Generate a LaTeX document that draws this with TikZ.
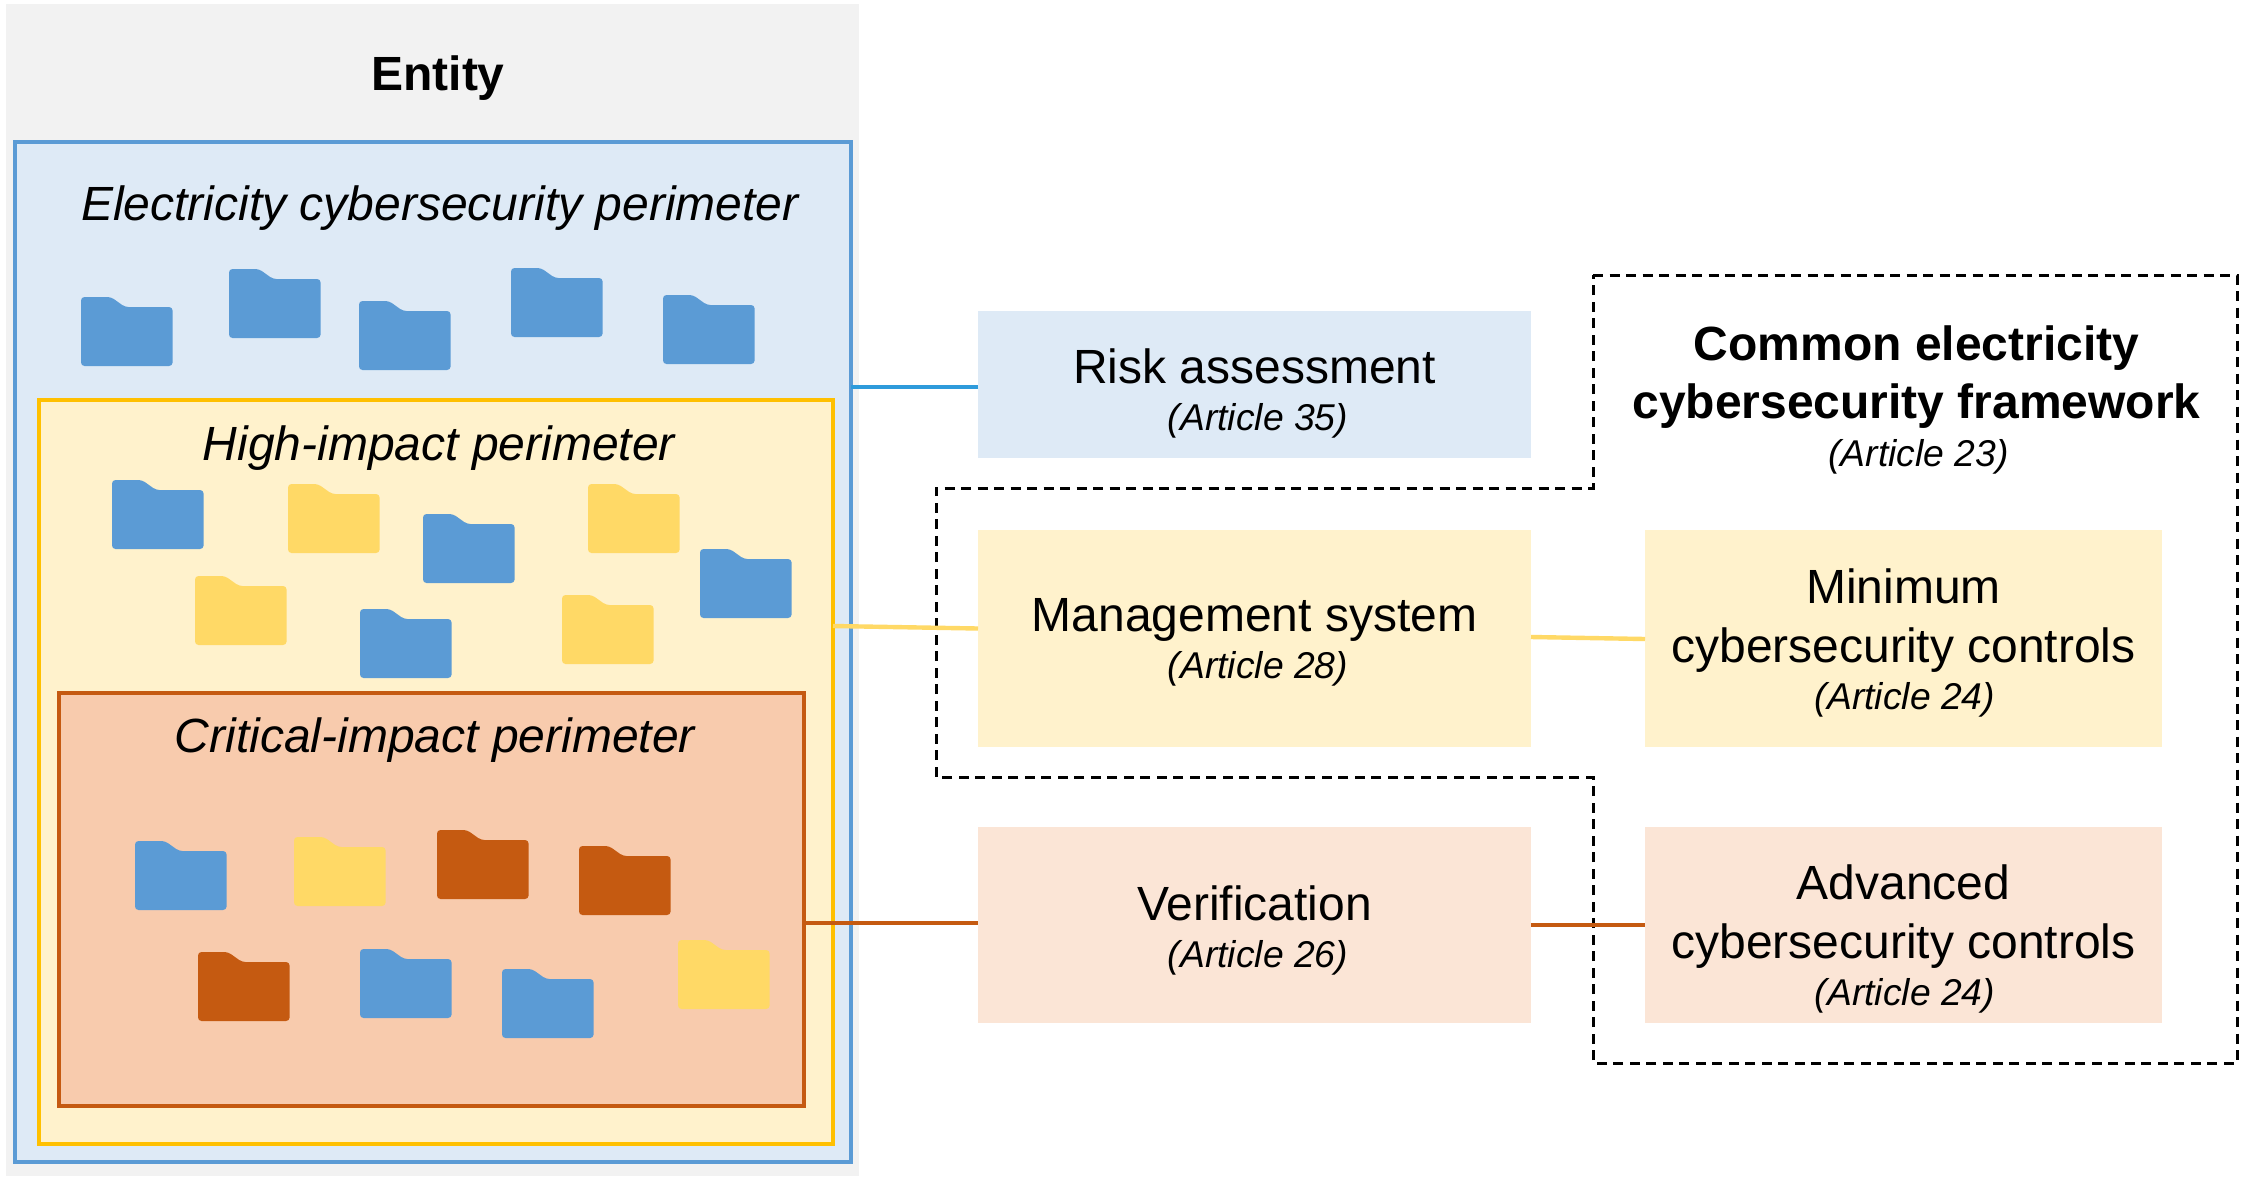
\documentclass[tikz,border=0pt]{standalone}
\usepackage{fontspec}
\setmainfont{Liberation Sans}
\usetikzlibrary{calc}
\definecolor{gBg}{HTML}{F2F2F2}
\definecolor{bLine}{HTML}{5B9BD5}
\definecolor{bFill}{HTML}{DEEAF6}
\definecolor{yLine}{HTML}{FFC000}
\definecolor{yFill}{HTML}{FFF2CC}
\definecolor{yFold}{HTML}{FFD966}
\definecolor{oLine}{HTML}{C55A11}
\definecolor{oFill}{HTML}{F8CBAD}
\definecolor{oPale}{HTML}{FBE5D6}
\definecolor{bConn}{HTML}{2E9BDB}
\newcommand{\bigf}{\fontsize{48}{59}\selectfont}
\newcommand{\artf}{\fontsize{37.3}{59}\selectfont\itshape}
\tikzset{
  zone/.style={draw=#1,line width=4.4pt,anchor=north west,inner sep=0pt,outer sep=0pt},
  card/.style={fill=#1,anchor=center,inner sep=0pt,outer sep=0pt},
  cardtext/.style={inner sep=0pt,align=center,font=\bigf,text=black},
  head/.style={font=\bigf\itshape,inner sep=0pt},
  link/.style={draw=#1,line width=4.4pt},
  frame/.style={draw=black,line width=3pt,dash pattern=on 10pt off 6.5pt},
  folder/.pic={\fill[rounded corners=3.5pt,pic actions] (0,0)--(30,0)--(44,10)--(91.6,10)--(91.6,69)--(0,69)--cycle;}
}
\begin{document}
\begin{tikzpicture}[x=1pt,y=-1pt]
\useasboundingbox (0,0) rectangle (2249,1176);
\fill[white] (0,0) rectangle (2249,1176);
% outer entity
\node[fill=gBg,anchor=north west,inner sep=0pt,outer sep=0pt,minimum width=853pt,minimum height=1172pt] (entity) at (6,4) {};
\node[font=\fontsize{48}{58}\selectfont\bfseries,inner sep=0pt] (entitylabel) at (438,78) {Entity};
% perimeters
\node[zone=bLine,fill=bFill,minimum width=836pt,minimum height=1020pt] (elec) at (15,142) {};
\node[zone=yLine,fill=yFill,minimum width=794pt,minimum height=744pt] (high) at (39,400) {};
\node[zone=oLine,fill=oFill,minimum width=745pt,minimum height=413pt] (crit) at (59,693) {};
\node[head] (eleclabel) at (440,208) {Electricity cybersecurity perimeter};
\node[head] (highlabel) at (439,448) {High-impact perimeter};
\node[head] (critlabel) at (435,740) {Critical-impact perimeter};
% folders
\foreach \x/\y in {81/297,229/269,359/301,511/268,663/295,112/480,423/514,700/549,360/609,135/841,360/949,502/969}
  \pic[fill=bLine] at (\x,\y) {folder};
\foreach \x/\y in {288/484,588/484,195/576,562/595,294/837,678/940}
  \pic[fill=yFold] at (\x,\y) {folder};
\foreach \x/\y in {437/830,579/846,198/952}
  \pic[fill=oLine] at (\x,\y) {folder};
% framework outline
\draw[frame] (1593,275)--(2237,275)--(2237,1063)--(1593,1063)--(1593,777)--(936,777)--(936,488)--(1593,488)--cycle;
\node[align=center,font=\fontsize{48}{58}\selectfont\bfseries,inner sep=0pt] (framework) at (1916.5,377.5) {Common electricity\\cybersecurity framework};
\node[font=\artf,inner sep=0pt] (art23) at (1918.5,457) {(Article 23)};
% cards
\node[card=bFill,minimum width=553pt,minimum height=147pt] (risk) at (1254.5,384.5) {};
\node[card=yFill,minimum width=553pt,minimum height=217pt] (mgmt) at (1254.5,638.5) {};
\node[card=oPale,minimum width=553pt,minimum height=196pt] (verif) at (1254.5,925) {};
\node[card=yFill,minimum width=517pt,minimum height=217pt] (minc) at (1903.5,638.5) {};
\node[card=oPale,minimum width=517pt,minimum height=196pt] (advc) at (1903.5,925) {};
\node[cardtext] (risktext) at ([yshift=-8.6pt]risk.center) {Risk assessment\\[-12pt]\hspace*{7pt}\artf (Article 35)};
\node[cardtext] (mgmttext) at ([yshift=-4.3pt]mgmt.center) {Management system\\[-12pt]\hspace*{7pt}\artf (Article 28)};
\node[cardtext] (veriftext) at ([yshift=-5.7pt]verif.center) {Verification\\[-12pt]\hspace*{7pt}\artf (Article 26)};
\node[cardtext] (minctext) at ([yshift=-4pt]minc.center) {Minimum\\cybersecurity controls\\[-12pt]\hspace*{3pt}\artf (Article 24)};
\node[cardtext] (advctext) at ([yshift=-14pt]advc.center) {Advanced\\cybersecurity controls\\[-12pt]\hspace*{3pt}\artf (Article 24)};
% connectors
\coordinate (riskin) at ([yshift=-2.5pt]risk.west);
\coordinate (verifin) at ([yshift=2pt]verif.west);
\draw[link=bConn] (riskin) -- (riskin -| elec.east);
\draw[link=yFold] (high.east |- 0,626) -- (mgmt.west |- 0,628.5);
\draw[link=yFold] (mgmt.east |- 0,637) -- (minc.west |- 0,639);
\draw[link=oLine] (verifin -| crit.east) -- (verifin);
\draw[link=oLine] (verif.east) -- (advc.west);
\end{tikzpicture}
\end{document}
